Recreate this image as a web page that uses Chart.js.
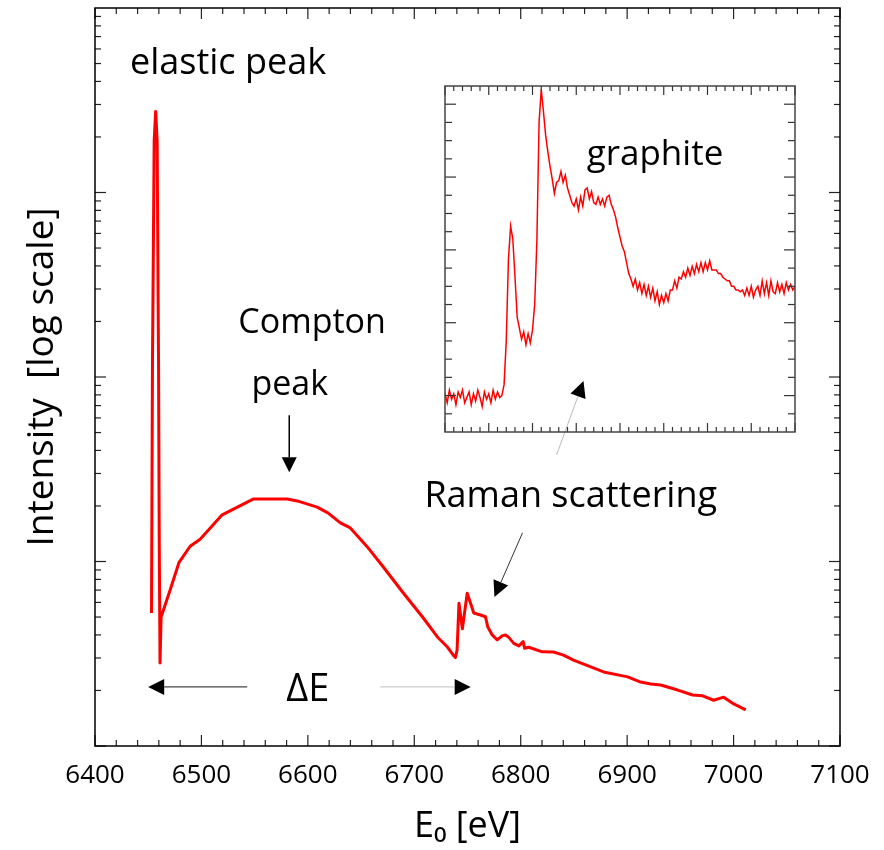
<!DOCTYPE html>
<html lang="en">
<head>
<meta charset="UTF-8">
<title>Intensity vs E0</title>
<script src="https://cdn.jsdelivr.net/npm/chart.js"></script>
<style>
  body { margin: 0; background: #fff; }
  #wrap { position: relative; width: 884px; height: 850px; }
  #mainChart { position: absolute; left: 0; top: 0; }
  #insetChart { position: absolute; left: 439px; top: 80px; }
</style>
</head>
<body>
<div id="wrap">
  <canvas id="mainChart" width="884" height="850"></canvas>
  <canvas id="insetChart" width="362" height="358"></canvas>
</div>
<script>
// emission spectrum: energy [eV] and intensity (arbitrary units, log axis)
const energy = [
  6453.1, 6454.0, 6455.6, 6457.0, 6458.4, 6459.7, 6460.4, 6461.1, 6462.1, 6470.6,
  6479.0, 6489.4, 6498.8, 6519.5, 6548.6, 6580.6, 6590.0, 6608.8, 6619.2, 6630.5,
  6639.9, 6655.9, 6670.9, 6689.7, 6708.5, 6721.7, 6731.1, 6736.8, 6738.7, 6740.2,
  6742.0, 6745.2, 6749.7, 6752.8, 6755.9, 6762.2, 6766.9, 6769.0, 6773.2, 6777.9,
  6782.6, 6785.7, 6788.8, 6793.5, 6798.2, 6802.3, 6803.6, 6807.6, 6820.2, 6830.8,
  6840.2, 6849.6, 6877.9, 6900.5, 6912.7, 6922.1, 6931.5, 6947.5, 6961.6, 6971.0,
  6981.3, 6990.7, 7000.2, 7011.4
];
const intensity = [
  5.26, 120, 1900, 2750, 1900, 120, 12, 2.82, 5.0, 7.0,
  9.9, 12.1, 13.2, 17.9, 21.8, 21.8, 21.3, 19.7, 18.3, 16.2,
  15.2, 12.0, 9.34, 6.75, 4.94, 3.90, 3.44, 3.10, 3.02, 3.31,
  5.93, 4.32, 6.72, 5.96, 5.26, 5.13, 5.02, 4.43, 4.0, 3.76,
  3.95, 4.0, 3.88, 3.60, 3.49, 3.68, 3.39, 3.43, 3.24, 3.23,
  3.11, 2.92, 2.52, 2.37, 2.22, 2.17, 2.14, 2.01, 1.89, 1.87,
  1.77, 1.84, 1.69, 1.57
];
const energyTicks = [6400, 6500, 6600, 6700, 6800, 6900, 7000, 7100];

// graphite absorption edge, one value per channel
const insetSignal = [
  2.1, 1.6, 2.3, 1.8, 2.1, 1.5, 2.2, 1.9, 2.3, 1.6,
  1.9, 2.2, 1.5, 2.1, 1.7, 2.3, 1.9, 1.4, 2.2, 1.8,
  2.1, 1.6, 2.3, 1.8, 2.2, 1.9, 2.0, 2.6, 5.0, 9.5,
  11.3, 10.6, 8.5, 6.3, 5.7, 5.1, 5.5, 4.8, 5.4, 4.9,
  5.6, 7.0, 10.5, 17.0, 18.8, 17.6, 16.3, 15.4, 14.6, 13.9,
  13.1, 13.7, 13.8, 14.3, 13.7, 14.1, 13.4, 13.0, 12.6, 12.4,
  12.8, 12.2, 12.9, 12.4, 13.3, 13.4, 12.8, 13.2, 12.6, 12.5,
  12.9, 12.5, 12.8, 12.4, 12.9, 13.0, 12.5, 12.2, 11.8, 11.2,
  10.7, 10.2, 9.9, 9.3, 8.7, 8.4, 8.0, 8.4, 7.8, 8.2,
  7.6, 8.1, 7.5, 8.0, 7.4, 7.9, 7.2, 7.7, 7.0, 7.5,
  7.1, 7.6, 7.2, 7.8, 7.8, 8.3, 7.9, 8.5, 8.4, 8.8,
  8.5, 9.0, 8.6, 9.1, 8.7, 9.2, 8.8, 9.3, 8.8, 9.3,
  8.9, 9.4, 8.9, 8.9, 8.9, 8.7, 8.7, 8.5, 8.4, 8.3,
  8.3, 8.0, 8.0, 7.8, 7.8, 7.7, 7.8, 7.5, 7.9, 7.5,
  8.0, 7.4, 7.8, 8.0, 7.5, 8.3, 7.6, 8.2, 7.5, 8.3,
  7.7, 7.6, 8.2, 7.7, 8.1, 7.6, 8.2, 7.8, 8.1, 7.8,
  8.0
];

const FONT = "'Comic Sans MS', 'Open Sans', 'DejaVu Sans', sans-serif";

function seg(ctx, x1, y1, x2, y2) {
  ctx.beginPath(); ctx.moveTo(x1, y1); ctx.lineTo(x2, y2); ctx.stroke();
}

function arrow(ctx, x1, y1, x2, y2, color, width, head) {
  const ang = Math.atan2(y2 - y1, x2 - x1);
  const bx = x2 - head * Math.cos(ang), by = y2 - head * Math.sin(ang);
  ctx.strokeStyle = color; ctx.lineWidth = width;
  seg(ctx, x1, y1, bx, by);
  ctx.fillStyle = '#000';
  ctx.beginPath();
  ctx.moveTo(x2, y2);
  ctx.lineTo(bx + head / 2 * Math.sin(ang), by - head / 2 * Math.cos(ang));
  ctx.lineTo(bx - head / 2 * Math.sin(ang), by + head / 2 * Math.cos(ang));
  ctx.closePath();
  ctx.fill();
}

// frame, inward ticks on all four sides, and the labels / arrows
const mainDecor = {
  id: 'mainDecor',
  afterDraw(chart) {
    const { ctx, chartArea: a, scales: { x, y } } = chart;
    ctx.save();
    ctx.strokeStyle = '#222'; ctx.lineWidth = 1.2;
    for (let e = 6400; e <= 7100; e += 20) {
      const px = x.getPixelForValue(e);
      const len = e % 100 === 0 ? 11 : 6;
      seg(ctx, px, a.bottom, px, a.bottom - len);
      seg(ctx, px, a.top, px, a.top + len);
    }
    for (let d = 1; d <= 1000; d *= 10) {
      for (let k = 1; k <= 9; k++) {
        const py = y.getPixelForValue(d * k);
        const len = k === 1 ? 11 : 6;
        seg(ctx, a.left, py, a.left + len, py);
        seg(ctx, a.right, py, a.right - len, py);
      }
    }
    ctx.strokeStyle = '#000'; ctx.lineWidth = 1.5;
    ctx.strokeRect(a.left, a.top, a.right - a.left, a.bottom - a.top);

    const P = (e, v) => [x.getPixelForValue(e), y.getPixelForValue(v)];
    ctx.fillStyle = '#000';
    ctx.textAlign = 'center'; ctx.textBaseline = 'middle';
    ctx.font = '36px ' + FONT;
    ctx.fillText('elastic peak', ...P(6525, 5000));
    ctx.font = '34px ' + FONT;
    ctx.fillText('Compton', ...P(6604, 196));
    ctx.fillText('peak', ...P(6583, 90));
    ctx.font = '36px ' + FONT;
    ctx.fillText('Raman scattering', ...P(6847, 22.4));
    ctx.font = '38px ' + FONT;
    ctx.fillText('ΔE', ...P(6600, 2.01));

    arrow(ctx, ...P(6582.5, 62), ...P(6582.5, 30.5), '#000', 1.5, 15);
    arrow(ctx, ...P(6801.7, 14.3), ...P(6775.3, 6.42), '#333', 1, 16);
    arrow(ctx, ...P(6833.7, 37.8), ...P(6859, 95), '#bbb', 1, 16);
    arrow(ctx, ...P(6543, 2.09), ...P(6450, 2.09), '#444', 1.2, 16);
    arrow(ctx, ...P(6668, 2.09), ...P(6753, 2.09), '#ccc', 1.2, 16);
    ctx.restore();
  }
};

new Chart(document.getElementById('mainChart'), {
  type: 'line',
  data: {
    datasets: [{
      data: energy.map((e, i) => ({ x: e, y: intensity[i] })),
      borderColor: '#ff0000',
      borderWidth: 3,
      pointRadius: 0,
      tension: 0,
      borderJoinStyle: 'round'
    }]
  },
  options: {
    responsive: false,
    animation: false,
    layout: { padding: { top: 8, right: 44, left: 0, bottom: 0 } },
    plugins: { legend: { display: false }, tooltip: { enabled: false } },
    scales: {
      x: {
        type: 'linear', min: 6400, max: 7100,
        afterBuildTicks: s => { s.ticks = energyTicks.map(v => ({ value: v })); },
        afterFit: s => { s.height = 104; },
        grid: { display: false, drawTicks: false },
        border: { display: false },
        ticks: { font: { family: FONT, size: 26 }, color: '#000', padding: 14, maxRotation: 0, callback: v => String(v) },
        title: { display: true, text: 'E₀ [eV]', font: { family: FONT, size: 36 }, color: '#000', padding: { top: 0, bottom: 2 } }
      },
      y: {
        type: 'logarithmic', min: 1, max: 10000,
        afterFit: s => { s.width = 95; },
        grid: { display: false, drawTicks: false },
        border: { display: false },
        ticks: { display: false },
        title: { display: true, text: 'Intensity  [log scale]', font: { family: FONT, size: 37 }, color: '#000', padding: { top: 20, bottom: 0 } }
      }
    }
  },
  plugins: [mainDecor]
});

// inset frame with inward ticks and its label
const insetDecor = {
  id: 'insetDecor',
  afterDraw(chart) {
    const { ctx, chartArea: a, scales: { x, y } } = chart;
    ctx.save();
    ctx.strokeStyle = '#333'; ctx.lineWidth = 1.2;
    for (let c = 0; c <= 160; c += 4) {
      const px = x.getPixelForValue(c);
      const len = c % 20 === 0 ? 9 : 5;
      seg(ctx, px, a.bottom, px, a.bottom - len);
      seg(ctx, px, a.top, px, a.top + len);
    }
    for (let v = 1; v <= 18; v++) {
      const py = y.getPixelForValue(v);
      const len = (v - 2) % 4 === 0 ? 11 : 7;
      seg(ctx, a.left, py, a.left + len, py);
      seg(ctx, a.right, py, a.right - len, py);
    }
    ctx.strokeStyle = '#444'; ctx.lineWidth = 1.5;
    ctx.strokeRect(a.left, a.top, a.right - a.left, a.bottom - a.top);
    ctx.fillStyle = '#000';
    ctx.textAlign = 'center'; ctx.textBaseline = 'middle';
    ctx.font = '35px ' + FONT;
    ctx.fillText('graphite', x.getPixelForValue(96), y.getPixelForValue(15.2));
    ctx.restore();
  }
};

new Chart(document.getElementById('insetChart'), {
  type: 'line',
  data: {
    datasets: [{
      data: insetSignal.map((v, i) => ({ x: i, y: v })),
      borderColor: '#ff0000',
      borderWidth: 1.5,
      pointRadius: 0,
      tension: 0
    }]
  },
  options: {
    responsive: false,
    animation: false,
    layout: { padding: 6 },
    plugins: { legend: { display: false }, tooltip: { enabled: false } },
    scales: {
      x: { type: 'linear', min: 0, max: 160, display: false },
      y: { type: 'linear', min: 0, max: 19, display: false }
    }
  },
  plugins: [insetDecor]
});
</script>
</body>
</html>
